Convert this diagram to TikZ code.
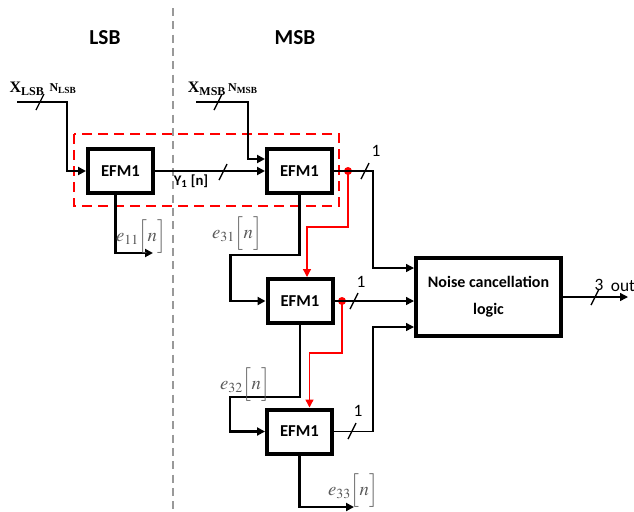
\documentclass[tikz,border=0pt]{standalone}
\usepackage{mathptmx}
\usepackage[no-math]{fontspec}
\setmainfont{Liberation Serif}
\newfontfamily\carlito{Carlito}
\usetikzlibrary{arrows.meta}

\colorlet{figRed} {red}
\colorlet{figGrid}{gray!80}
\colorlet{figErr} {black!65}

\tikzset{
  efm/.style={draw, line width=3pt, minimum width=48.75pt, minimum height=33pt,
              inner sep=0pt, font=\carlito\bfseries\fontsize{12.5pt}{12.5pt}\selectfont},
  noisebox/.style={draw, line width=3pt, minimum width=108.75pt, minimum height=58.5pt,
              align=center, font=\carlito\bfseries\fontsize{12pt}{20pt}\selectfont},
  heading/.style={font=\carlito\bfseries\fontsize{16pt}{16pt}\selectfont},
  buswire/.style={line width=2.2pt},
  ywire/.style={line width=1.5pt},
  sigwire/.style={line width=1.1pt},
  redwire/.style={figRed, line width=1pt},
  hilite/.style={figRed, line width=2pt, dash pattern=on 7.5pt off 4.5pt},
  divider/.style={figGrid, line width=1pt, dash pattern=on 6pt off 4pt},
  slash/.style={line width=1pt},
  bitlabel/.style={font=\carlito\fontsize{13pt}{13pt}\selectfont, inner sep=0pt},
  errlabel/.style={figErr, font=\fontsize{14pt}{14pt}\selectfont, inner sep=0pt},
}

\begin{document}
\begin{tikzpicture}[x=0.75pt, y=-0.75pt, >={Triangle[length=6pt,width=6pt]}]
  \useasboundingbox (0,0) rectangle (634,511);

  % LSB / MSB split
  \draw[divider] (173,8) -- (173,511);
  \node[heading] (lsb) at (105,38) {LSB};
  \node[heading] (msb) at (295,38) {MSB};

  % blocks
  \node[efm] (efmA) at (120.5,171) {EFM1};
  \node[efm] (efmB) at (299.5,171) {EFM1};
  \node[efm] (efmC) at (300,301) {EFM1};
  \node[efm] (efmD) at (299.5,431.5) {EFM1};
  \node[noisebox] (noise) at (488.5,297) {Noise cancellation\\logic};

  \draw[hilite] (74,134) rectangle (339,206);

  % inputs
  \coordinate (xlsb) at (17,102);
  \coordinate (xmsb) at (196,102);
  \draw[buswire,->] (xlsb) -| ([xshift=-14.25pt]efmA.west) -- (efmA.west);
  \draw[buswire,->] (xmsb) -| ([xshift=-12.75pt,yshift=9pt]efmB.west)
        -- ([yshift=9pt]efmB.west);
  \draw[slash] (40,102) ++(-4,8) -- ++(8,-16);
  \draw[slash] (218,102) ++(-4,8) -- ++(8,-16);
  \node[font=\bfseries\fontsize{12pt}{12pt}\selectfont, inner sep=0pt] (xlsbl) at (27,89) {X\textsubscript{LSB}};
  \node[font=\bfseries\fontsize{9pt}{9pt}\selectfont, inner sep=0pt] (nlsbl) at (63,89) {N\textsubscript{LSB}};
  \node[font=\bfseries\fontsize{12pt}{12pt}\selectfont, inner sep=0pt] (xmsbl) at (207,89) {X\textsubscript{MSB}};
  \node[font=\bfseries\fontsize{9pt}{9pt}\selectfont, inner sep=0pt] (nmsbl) at (243,89) {N\textsubscript{MSB}};

  % Y1 between stages
  \draw[ywire,->] (efmA.east) -- (efmB.west);
  \draw[slash] (223,172) ++(-4,8) -- ++(8,-16);
  \node[font=\carlito\bfseries\fontsize{11pt}{11pt}\selectfont, inner sep=0pt] (yl) at (191,181) {Y\textsubscript{1} [n]};

  % error outputs
  \coordinate (e11end) at (153,253);
  \coordinate (e33end) at (354,507);
  \draw[buswire,->] ([xshift=-3.75pt]efmA.south) |- (e11end);
  \draw[buswire,->] (efmB.south) -- ++(0,60) -| ([xshift=-26.25pt]efmC.west) -- (efmC.west);
  \draw[buswire,->] (efmC.south) -- ++(0,72) -| ([xshift=-26.25pt]efmD.west) -- (efmD.west);
  \draw[buswire,->] (efmD.south) |- (e33end);
  \node[errlabel] (e11) at (141,237) {$e_{11}\Big[n\Big]$};
  \node[errlabel] (e31) at (237,234) {$e_{31}\Big[n\Big]$};
  \node[errlabel] (e32) at (245,385) {$e_{32}\Big[n\Big]$};
  \node[errlabel] (e33) at (353,491) {$e_{33}\Big[n\Big]$};

  % red feed forward
  \coordinate (dotA) at (348,171);
  \coordinate (dotB) at (342,301);
  \draw[redwire,->] (dotA) -- ++(0,56) -| ([xshift=5.25pt]efmC.north);
  \draw[redwire,->] (dotB) -- ++(0,52) -| ([xshift=7.5pt]efmD.north);
  \fill[figRed] (dotA) circle (4);
  \fill[figRed] (dotB) circle (4);

  % into noise cancellation
  \coordinate (nA) at ([yshift=21.75pt]noise.west);
  \coordinate (nC) at ([yshift=-22.5pt]noise.west);
  \draw[sigwire,->] (efmB.east) -| ([xshift=-30.75pt]nA) -- (nA);
  \draw[sigwire,->] (efmC.east) -- (efmC.east -| noise.west);
  \draw[sigwire,->] (efmD.east) -| ([xshift=-30.75pt]nC) -- (nC);
  \draw[slash] (365,171) ++(-4,8) -- ++(8,-16);
  \draw[slash] (354,301) ++(-4,8) -- ++(8,-16);
  \draw[slash] (352,431) ++(-4,8) -- ++(8,-16);
  \node[bitlabel] (b1) at (376,151) {1};
  \node[bitlabel] (b2) at (361,282) {1};
  \node[bitlabel] (b3) at (358,411) {1};

  % output
  \coordinate (outend) at (628,297);
  \draw[sigwire,->] (noise.east) -- (outend);
  \draw[slash] (595,297) ++(-4,8) -- ++(8,-16);
  \node[bitlabel] (b4) at (599,285) {3};
  \node[bitlabel] (outl) at (623,286) {out};
\end{tikzpicture}
\end{document}
